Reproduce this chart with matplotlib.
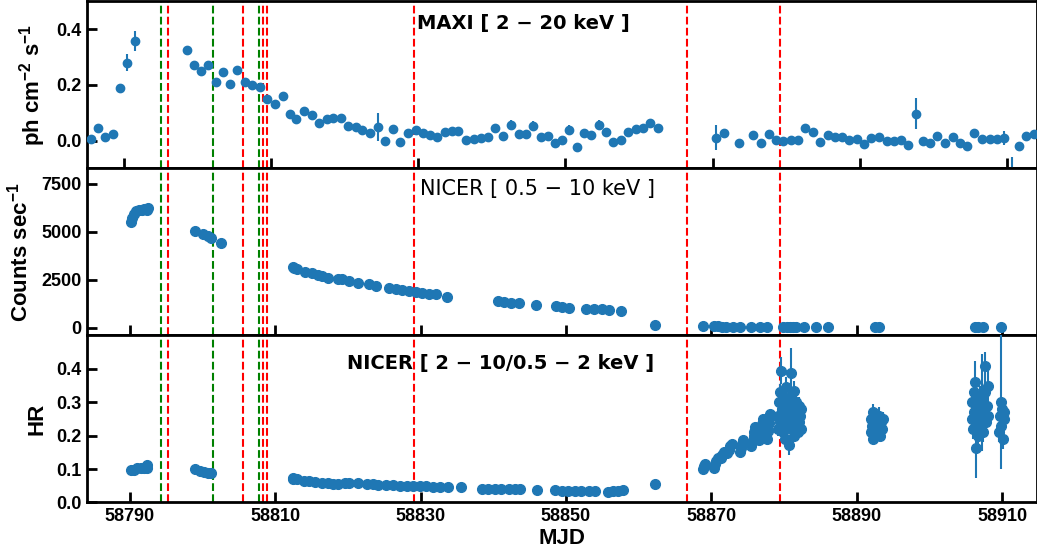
import matplotlib
matplotlib.use('Agg')
import matplotlib.pyplot as plt

plt.rcParams.update({
    'font.family': ['Liberation Sans', 'DejaVu Sans'],
    'font.weight': 'bold',
    'mathtext.fontset': 'custom',
    'mathtext.rm': 'Liberation Sans:bold',
    'mathtext.bf': 'Liberation Sans:bold',
    'mathtext.it': 'Liberation Sans:bold',
    'mathtext.default': 'bf',
    'axes.linewidth': 2,
})

BLUE = '#1f77b4'

# ---- MAXI 2-20 keV daily light curve ----
maxi_mjd = [
    58784.7, 58785.6, 58786.6, 58787.7, 58788.6, 58789.6, 58790.7,
    58797.8, 58798.8, 58799.8, 58800.8, 58801.8, 58802.8, 58803.8, 58804.8, 58805.9, 58806.8,
    58807.9, 58808.8, 58810.0, 58811.0, 58812.0, 58812.9, 58814.0, 58815.1, 58816.0, 58817.1,
    58818.0, 58819.0, 58820.0, 58821.1, 58822.0, 58823.1, 58824.2, 58825.1, 58826.2, 58827.2,
    58828.2, 58829.3, 58830.3, 58831.3, 58832.3, 58833.3, 58834.3, 58835.2, 58836.3, 58837.3,
    58838.3, 58839.3, 58840.3, 58841.3, 58842.5, 58843.5, 58844.5, 58845.4, 58846.5, 58847.5,
    58848.5, 58849.5, 58850.4, 58851.5, 58852.5, 58853.5, 58854.5, 58855.5, 58856.5, 58857.5,
    58858.5, 58859.6, 58860.6, 58861.6, 58862.7,
    58870.7, 58871.8, 58873.8, 58875.7, 58876.8, 58877.9, 58878.9, 58879.9, 58880.9, 58881.9,
    58882.9, 58884.0, 58885.0, 58886.0, 58887.0, 58888.0, 58889.0, 58890.0, 58891.0, 58892.0,
    58893.1, 58894.1, 58895.1, 58896.1, 58897.1, 58898.1, 58899.1, 58900.1, 58901.1, 58902.2,
    58903.2, 58904.2, 58905.2, 58906.2, 58907.2, 58908.3, 58909.3, 58910.2, 58911.3, 58912.3,
    58913.3, 58914.4,
]
maxi_flux = [
    0.006, 0.046, 0.014, 0.024, 0.190, 0.280, 0.358,
    0.324, 0.273, 0.252, 0.273, 0.209, 0.246, 0.205, 0.253, 0.209, 0.199,
    0.192, 0.149, 0.131, 0.160, 0.094, 0.078, 0.107, 0.093, 0.064, 0.078,
    0.080, 0.080, 0.054, 0.050, 0.040, 0.027, 0.050, 0.000, 0.042, -0.005,
    0.028, 0.038, 0.028, 0.022, 0.014, 0.031, 0.036, 0.036, 0.002, 0.007,
    0.008, 0.014, 0.046, 0.017, 0.055, 0.024, 0.024, 0.053, 0.012, 0.018,
    -0.010, 0.002, 0.040, -0.022, 0.026, 0.019, 0.057, 0.030, -0.005, 0.002,
    0.030, 0.041, 0.044, 0.062, 0.047,
    0.010, 0.028, -0.010, 0.020, -0.010, 0.023, 0.002, -0.001, 0.002, 0.002,
    0.046, 0.030, -0.004, 0.020, 0.014, 0.014, 0.001, 0.006, -0.012, 0.008,
    0.012, -0.001, -0.001, 0.004, -0.014, 0.097, 0.000, -0.010, 0.016, -0.010,
    0.014, -0.010, -0.018, 0.029, 0.006, 0.006, 0.006, 0.010, -0.115, -0.018,
    0.018, 0.024,
]
maxi_err = [
    0.010, 0.012, 0.010, 0.012, 0.015, 0.030, 0.035,
    0.016, 0.012, 0.012, 0.012, 0.012, 0.012, 0.012, 0.012, 0.012, 0.012,
    0.012, 0.012, 0.012, 0.012, 0.012, 0.012, 0.012, 0.012, 0.012, 0.012,
    0.012, 0.012, 0.012, 0.012, 0.012, 0.012, 0.050, 0.012, 0.012, 0.012,
    0.012, 0.012, 0.012, 0.012, 0.012, 0.012, 0.012, 0.012, 0.012, 0.012,
    0.012, 0.012, 0.012, 0.012, 0.018, 0.012, 0.012, 0.016, 0.012, 0.012,
    0.012, 0.012, 0.016, 0.012, 0.012, 0.012, 0.016, 0.012, 0.012, 0.012,
    0.012, 0.012, 0.012, 0.012, 0.012,
    0.045, 0.012, 0.012, 0.012, 0.012, 0.012, 0.012, 0.012, 0.012, 0.012,
    0.012, 0.012, 0.012, 0.012, 0.012, 0.012, 0.012, 0.012, 0.012, 0.012,
    0.012, 0.012, 0.012, 0.012, 0.012, 0.055, 0.012, 0.012, 0.012, 0.012,
    0.012, 0.012, 0.012, 0.012, 0.012, 0.012, 0.012, 0.025, 0.055, 0.012,
    0.012, 0.012,
]

# ---- NICER 0.5-10 keV count rate ----
nicer_mjd = [
    58790.1, 58790.3, 58790.6, 58790.9, 58791.2, 58791.6, 58792.0, 58792.3, 58792.5,
    58799.0, 58800.0, 58800.7, 58801.1, 58802.5,
    58812.4, 58812.6, 58813.0, 58814.1, 58815.0, 58815.9, 58816.4, 58817.3, 58818.7, 58819.2,
    58820.1, 58821.4, 58822.9, 58823.8, 58825.6, 58826.6, 58827.5, 58828.4, 58829.3, 58830.2,
    58831.1, 58832.1, 58833.6,
    58840.6, 58841.5, 58842.4, 58843.5, 58845.9, 58848.6, 58849.5, 58850.4,
    58852.8, 58853.9, 58855.0, 58855.9, 58857.5, 58862.2,
    58868.9, 58870.4, 58870.9, 58871.5, 58872.0, 58873.0, 58873.9, 58875.5, 58876.7, 58877.6,
    58879.9, 58880.4, 58880.8, 58881.2, 58881.7, 58882.8, 58884.4, 58886.0,
    58892.5, 58893.1, 58906.3, 58906.7, 58907.4, 58909.8,
]
nicer_rate = [
    5530, 5700, 5950, 6080, 6120, 6150, 6170, 6130, 6250,
    5050, 4890, 4800, 4670, 4410,
    3150, 3100, 3060, 2920, 2830, 2740, 2690, 2620, 2540, 2530,
    2440, 2360, 2260, 2180, 2080, 2010, 1960, 1900, 1850, 1820,
    1780, 1750, 1620,
    1380, 1340, 1310, 1290, 1170, 1120, 1080, 1030,
    1000, 975, 960, 940, 890, 160,
    110, 80, 70, 60, 55, 50, 45, 40, 35, 35,
    30, 30, 30, 30, 30, 25, 25, 25,
    25, 25, 25, 25, 25, 25,
]

# ---- NICER hardness ratio (2-10 / 0.5-2 keV) ----
hr_mjd = [
    58790.2, 58790.6, 58791.0, 58791.5, 58792.0, 58792.3, 58792.4,
    58799.0, 58799.7, 58800.2, 58800.7, 58801.1,
    58812.4, 58812.5, 58813.0, 58813.9, 58814.6, 58815.5, 58816.4, 58817.3, 58818.0, 58818.7,
    58819.6, 58820.1, 58821.4, 58822.6, 58823.5, 58824.2, 58825.3, 58826.2, 58827.2, 58828.1,
    58829.0, 58829.9, 58830.8, 58831.7, 58832.7, 58833.8, 58835.5,
    58838.4, 58839.3, 58840.2, 58841.1, 58842.1, 58843.0, 58843.7, 58846.0, 58848.5, 58849.4,
    58850.3, 58851.2, 58852.1, 58853.1, 58854.0, 58855.8, 58856.5, 58857.2, 58857.9, 58862.2,
    58868.9, 58869.0, 58869.1, 58870.3, 58870.5, 58870.7, 58870.9, 58871.3, 58871.5, 58871.7,
    58872.2, 58872.4, 58872.6, 58872.8, 58873.9, 58874.1, 58874.2, 58874.4, 58875.5, 58875.7,
    58875.8, 58875.9, 58876.0, 58876.6, 58876.8, 58876.9, 58877.0, 58877.1, 58877.6, 58877.8,
    58877.9, 58878.0, 58878.1,
    58879.1, 58879.2, 58879.3, 58879.4, 58879.5, 58879.6, 58879.7, 58879.8, 58879.9, 58880.0,
    58880.1, 58880.2, 58880.3, 58880.4, 58880.6, 58880.7, 58880.8, 58880.9, 58881.0, 58881.1,
    58881.2, 58881.3, 58881.4, 58881.5, 58881.6, 58881.7, 58881.8, 58881.9, 58882.0, 58882.1,
    58882.2, 58882.3, 58882.4,
    58891.9, 58892.0, 58892.1, 58892.2, 58892.3, 58892.5, 58892.7, 58893.0, 58893.2, 58893.3,
    58893.5, 58893.6,
    58905.8, 58905.9, 58906.0, 58906.1, 58906.2, 58906.3, 58906.4, 58906.5, 58906.6, 58906.7,
    58906.8, 58906.9, 58907.0, 58907.1, 58907.2, 58907.3, 58907.4, 58907.5, 58907.6, 58907.7,
    58907.8, 58907.9, 58908.0, 58908.1,
    58909.6, 58909.7, 58909.8, 58909.9, 58910.0, 58910.1, 58910.2, 58910.3,
]
hr_val = [
    0.096, 0.098, 0.103, 0.104, 0.103, 0.111, 0.104,
    0.099, 0.094, 0.090, 0.088, 0.088,
    0.070, 0.072, 0.069, 0.064, 0.063, 0.061, 0.059, 0.057, 0.055, 0.054,
    0.057, 0.059, 0.057, 0.054, 0.054, 0.053, 0.052, 0.051, 0.050, 0.049,
    0.049, 0.048, 0.048, 0.047, 0.046, 0.045, 0.045,
    0.039, 0.039, 0.039, 0.039, 0.039, 0.039, 0.039, 0.037, 0.037, 0.035,
    0.035, 0.034, 0.034, 0.034, 0.033, 0.032, 0.033, 0.034, 0.036, 0.055,
    0.100, 0.108, 0.116, 0.104, 0.114, 0.124, 0.132, 0.134, 0.142, 0.150,
    0.148, 0.158, 0.168, 0.176, 0.152, 0.164, 0.176, 0.186, 0.170, 0.184,
    0.198, 0.212, 0.226, 0.186, 0.202, 0.218, 0.234, 0.250, 0.190, 0.214,
    0.238, 0.256, 0.266,
    0.220, 0.260, 0.300, 0.240, 0.330, 0.395, 0.280, 0.210, 0.250, 0.310,
    0.190, 0.345, 0.270, 0.230, 0.300, 0.171, 0.250, 0.320, 0.388, 0.220,
    0.280, 0.200, 0.335, 0.260, 0.300, 0.230, 0.270, 0.210, 0.290, 0.240,
    0.260, 0.220, 0.280,
    0.210, 0.250, 0.230, 0.270, 0.190, 0.240, 0.220, 0.260, 0.200, 0.240,
    0.220, 0.250,
    0.250, 0.300, 0.220, 0.270, 0.330, 0.360, 0.164, 0.240, 0.290, 0.200,
    0.260, 0.310, 0.230, 0.280, 0.250, 0.300, 0.210, 0.270, 0.330, 0.410,
    0.240, 0.290, 0.260, 0.350,
    0.210, 0.260, 0.300, 0.230, 0.280, 0.190, 0.250, 0.270,
]
hr_err = [
    0.003, 0.003, 0.003, 0.003, 0.003, 0.003, 0.003,
    0.003, 0.003, 0.003, 0.003, 0.003,
    0.002, 0.002, 0.002, 0.002, 0.002, 0.002, 0.002, 0.002, 0.002, 0.002,
    0.002, 0.002, 0.002, 0.002, 0.002, 0.002, 0.002, 0.002, 0.002, 0.002,
    0.002, 0.002, 0.002, 0.002, 0.002, 0.002, 0.002,
    0.002, 0.002, 0.002, 0.002, 0.002, 0.002, 0.002, 0.002, 0.002, 0.002,
    0.002, 0.002, 0.002, 0.002, 0.002, 0.002, 0.002, 0.002, 0.002, 0.003,
    0.006, 0.006, 0.006, 0.006, 0.006, 0.006, 0.006, 0.008, 0.008, 0.008,
    0.008, 0.008, 0.008, 0.008, 0.008, 0.008, 0.008, 0.008, 0.010, 0.010,
    0.010, 0.010, 0.010, 0.010, 0.010, 0.010, 0.012, 0.015, 0.010, 0.010,
    0.010, 0.012, 0.012,
    0.020, 0.020, 0.025, 0.020, 0.025, 0.040, 0.020, 0.020, 0.020, 0.025,
    0.020, 0.030, 0.020, 0.020, 0.025, 0.030, 0.020, 0.025, 0.075, 0.020,
    0.020, 0.020, 0.030, 0.020, 0.025, 0.020, 0.020, 0.020, 0.025, 0.020,
    0.020, 0.020, 0.020,
    0.020, 0.025, 0.020, 0.025, 0.015, 0.020, 0.020, 0.025, 0.020, 0.020,
    0.020, 0.020,
    0.030, 0.030, 0.030, 0.030, 0.040, 0.065, 0.090, 0.060, 0.030, 0.030,
    0.030, 0.040, 0.030, 0.030, 0.030, 0.145, 0.030, 0.030, 0.040, 0.040,
    0.030, 0.030, 0.030, 0.050,
    0.030, 0.030, 0.200, 0.030, 0.030, 0.030, 0.030, 0.030,
]

# state-transition epochs
green_mjd = [58794.3, 58801.4, 58807.7]
red_mjd = [58795.2, 58805.6, 58808.3, 58808.8, 58829.1, 58866.7, 58879.5]

xticks = [58790, 58810, 58830, 58850, 58870, 58890, 58910]
maxi_xticks = [58789.2, 58809.4, 58829.7, 58849.9, 58870.2, 58890.4, 58910.7]
XLIM = (58784.1, 58914.8)

fig, axes = plt.subplots(3, 1, figsize=(10.37, 5.52), dpi=100)
fig.subplots_adjust(left=0.0839, right=1.0, top=0.9973, bottom=0.0897, hspace=0)
ax1, ax2, ax3 = axes

for ax in axes:
    for x in green_mjd:
        ax.axvline(x, color='g', ls='--', lw=1.5, zorder=1)
    for x in red_mjd:
        ax.axvline(x, color='r', ls='--', lw=1.5, zorder=1)
    ax.set_xlim(*XLIM)
    ax.tick_params(direction='in', length=7, width=2, labelsize=13,
                   top=False, right=False, pad=4)

# MAXI
ax1.errorbar(maxi_mjd, maxi_flux, yerr=maxi_err, fmt='o', ms=6, color=BLUE,
             elinewidth=1.5, capsize=0, zorder=3)
ax1.set_ylim(-0.1, 0.5)
ax1.set_yticks([0.0, 0.2, 0.4])
ax1.set_yticklabels(['0.0', '0.2', '0.4'])
ax1.set_xticks(maxi_xticks)
ax1.set_xticklabels([])
ax1.set_ylabel(r'ph cm$^{-2}$ s$^{-1}$', fontsize=16, fontweight='bold', labelpad=6)
ax1.text(0.3477, 0.834, 'MAXI [ 2 \u2212 20 keV ]', transform=ax1.transAxes,
         family='DejaVu Sans', fontsize=14, fontweight='bold', va='baseline')

# NICER count rate
ax2.plot(nicer_mjd, nicer_rate, 'o', ms=7, color=BLUE, zorder=3)
ax2.set_ylim(-400, 8300)
ax2.set_yticks([0, 2500, 5000, 7500])
ax2.set_xticks(xticks)
ax2.set_xticklabels([])
ax2.set_ylabel(r'Counts sec$^{-1}$', fontsize=16, fontweight='bold', labelpad=6)
ax2.text(0.3505, 0.843, 'NICER [ 0.5 \u2212 10 keV ]', transform=ax2.transAxes,
         family='DejaVu Sans', fontsize=15, fontweight='normal', va='baseline')

# hardness ratio
ax3.errorbar(hr_mjd, hr_val, yerr=hr_err, fmt='o', ms=7, color=BLUE,
             elinewidth=1.5, capsize=0, zorder=3)
ax3.set_ylim(0, 0.5)
ax3.set_yticks([0.0, 0.1, 0.2, 0.3, 0.4])
ax3.set_yticklabels(['0.0', '0.1', '0.2', '0.3', '0.4'])
ax3.set_xticks(xticks)
ax3.set_xticklabels([str(t) for t in xticks])
ax3.set_ylabel('HR', fontsize=16, fontweight='bold', labelpad=6)
ax3.set_xlabel('MJD', fontsize=16, fontweight='bold', labelpad=2)
ax3.text(0.2734, 0.801, 'NICER [ 2 \u2212 10/0.5 \u2212 2 keV ]', transform=ax3.transAxes,
         family='DejaVu Sans', fontsize=14, fontweight='bold', va='baseline')

for ax in axes:
    for lab in ax.get_xticklabels() + ax.get_yticklabels():
        lab.set_fontweight('bold')

fig.savefig('out.png', dpi=100)
